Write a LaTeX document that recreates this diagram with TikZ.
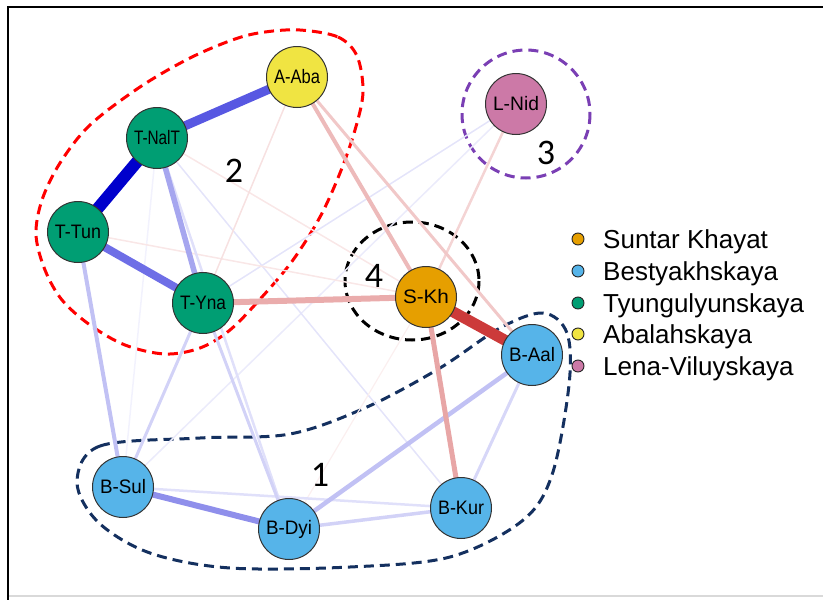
\documentclass[tikz,border=0pt]{standalone}
\usepackage{fontspec}
\setmainfont{Liberation Sans}
\newfontfamily\numfont{Carlito}
\usepackage{graphicx}
\definecolor{cgreen}{HTML}{009E73}
\definecolor{corange}{HTML}{E69F00}
\definecolor{cblue}{HTML}{56B4E9}
\definecolor{cyellow}{HTML}{F0E442}
\definecolor{cpink}{HTML}{CC79A7}
\definecolor{navyhull}{HTML}{14305F}
\definecolor{purphull}{HTML}{7A3FB4}
\definecolor{ered}{HTML}{CC3A3A}
\definecolor{eblue}{HTML}{2020D8}
\newcommand{\nlbl}[1]{\resizebox{46pt}{\height}{\fontsize{19.5}{20}\selectfont #1}}
\tikzset{
  stn/.style={circle, draw=black!80, line width=1pt, minimum size=61pt, inner sep=0pt, fill=#1},
  edg/.style n args={2}{draw=#1, line width=#2pt},
  hull/.style={line width=3pt, dash pattern=on 10pt off 6pt},
  legdot/.style={circle, draw=black!85, line width=0.9pt, minimum size=12pt, inner sep=0pt, fill=#1},
  legtxt/.style={anchor=base west, inner sep=0pt, font=\fontsize{26}{26}\selectfont},
  num/.style={font=\numfont\fontsize{36}{36}\selectfont, inner sep=0pt}
}
\begin{document}
\begin{tikzpicture}[x=1pt,y=-1pt]
\useasboundingbox (0,0) rectangle (823,600);
% frame
\draw[black, line width=2.5pt] (8,600) -- (8,7) -- (823,7);
\draw[black!15, line width=1.5pt] (9,596) -- (823,596);

% node positions
\coordinate (pAba) at (297,77);
\coordinate (pNalT) at (157,138);
\coordinate (pTun) at (78,232);
\coordinate (pYna) at (203,303);
\coordinate (pNid) at (516,104);
\coordinate (pSKh) at (426,297);
\coordinate (pAal) at (532,355);
\coordinate (pSul) at (123,487);
\coordinate (pDyi) at (289,529);
\coordinate (pKur) at (461,508);

% hulls
\draw[hull, red] plot[smooth cycle, tension=0.55] coordinates {
 (300,30) (338,37) (357,56) (363,92) (355,130) (340,173) (320,217) (293,260) (262,297) (230,330) (200,348) (165,354) (125,345) (90,325) (62,300) (45,270) (36,235) (42,200) (60,163) (90,125) (140,87) (190,58) (235,39) (265,32)};
\draw[hull, navyhull] plot[smooth cycle, tension=0.55] coordinates {
 (77,482) (100,446) (200,438) (290,434) (367,407) (440,368) (500,328) (543,313) (567,333) (569,385) (552,475) (522,521) (450,557) (350,567) (230,568) (150,553) (98,522)};
\draw[hull, purphull] (526,114) circle[radius=64];
\draw[hull, black] (412,281) ellipse[x radius=67, y radius=59];

% faint edges
\draw[edg={eblue!6}{1.5}] (pNalT) -- (pSul);
\draw[edg={eblue!9}{1.5}] (pSul) -- (pNid);
\draw[edg={eblue!12}{1.5}] (pYna) -- (pNid);
\draw[edg={eblue!12}{1.5}] (pNalT) -- (pKur);
\draw[edg={ered!8}{1.2}] (pDyi) -- (pSKh);
\draw[edg={ered!12}{1.5}] (pTun) -- (pSKh);
\draw[edg={ered!12}{1.5}] (pNalT) -- (pSKh);
\draw[edg={ered!15}{1.5}] (pAba) -- (pYna);
\draw[edg={ered!22}{2.5}] (pNid) -- (pSKh);
\draw[edg={eblue!14}{2.5}] (pSul) -- (pKur);
\draw[edg={eblue!14}{2.5}] (pNalT) -- (pDyi);
% medium edges
\draw[edg={eblue!20}{3}] (pYna) -- (pDyi);
\draw[edg={eblue!20}{3}] (pYna) -- (pSul);
\draw[edg={eblue!18}{3}] (pKur) -- (pAal);
\draw[edg={eblue!20}{3.5}] (pDyi) -- (pKur);
\draw[edg={eblue!28}{4.5}] (pDyi) -- (pAal);
\draw[edg={eblue!28}{4}] (pTun) -- (pSul);
\draw[edg={ered!28}{3}] (pAba) -- (pAal);
\draw[edg={ered!35}{4}] (pAba) -- (pSKh);
\draw[edg={ered!45}{5}] (pSKh) -- (pKur);
\draw[edg={ered!42}{6}] (pSKh) -- (pYna);
\draw[edg={eblue!40}{5.5}] (pNalT) -- (pYna);
\draw[edg={eblue!50}{6}] (pSul) -- (pDyi);
\draw[edg={eblue!65}{8}] (pTun) -- (pYna);
\draw[edg={eblue!75}{9}] (pNalT) -- (pAba);
\draw[edg={blue!80!black}{12}] (pNalT) -- (pTun);
\draw[edg={ered}{11}] (pSKh) -- (pAal);

% stations
\node[stn=cyellow] (Aba) at (pAba) {\nlbl{A-Aba}};
\node[stn=cgreen] (NalT) at (pNalT) {\nlbl{T-NalT}};
\node[stn=cgreen] (Tun) at (pTun) {\nlbl{T-Tun}};
\node[stn=cgreen] (Yna) at (pYna) {\nlbl{T-Yna}};
\node[stn=cpink] (Nid) at (pNid) {\nlbl{L-Nid}};
\node[stn=corange] (SKh) at (pSKh) {\nlbl{S-Kh}};
\node[stn=cblue] (Aal) at (pAal) {\nlbl{B-Aal}};
\node[stn=cblue] (Sul) at (pSul) {\nlbl{B-Sul}};
\node[stn=cblue] (Dyi) at (pDyi) {\nlbl{B-Dyi}};
\node[stn=cblue] (Kur) at (pKur) {\nlbl{B-Kur}};

% group numbers
\node[num] (n1) at (320,475) {1};
\node[num] (n2) at (234,171) {2};
\node[num] (n3) at (546,153) {3};
\node[num] (n4) at (374,276) {4};

% legend
\node[legdot=corange] (d1) at (578,239) {};
\node[legdot=cblue] (d2) at (578,271) {};
\node[legdot=cgreen] (d3) at (578,303) {};
\node[legdot=cyellow] (d4) at (578,334) {};
\node[legdot=cpink] (d5) at (578,366) {};
\node[legtxt] (t1) at (603,248) {Suntar Khayat};
\node[legtxt] (t2) at (603,280) {Bestyakhskaya};
\node[legtxt] (t3) at (603,312) {Tyungulyunskaya};
\node[legtxt] (t4) at (603,343) {Abalahskaya};
\node[legtxt] (t5) at (603,375) {Lena-Viluyskaya};
\end{tikzpicture}
\end{document}
